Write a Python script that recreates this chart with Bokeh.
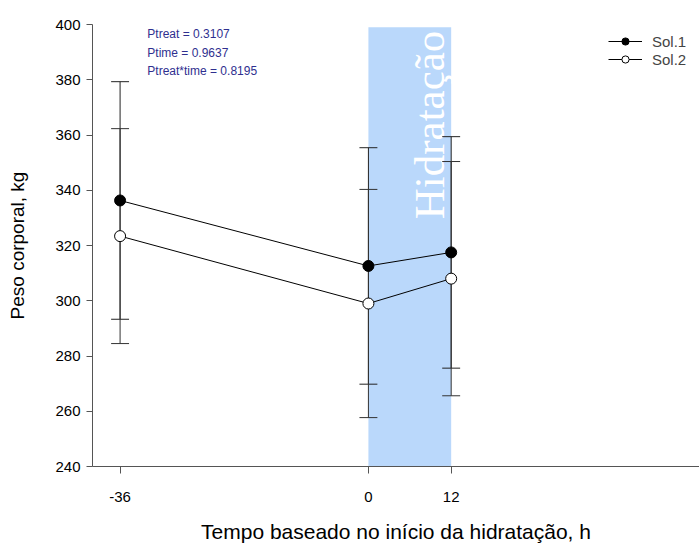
import math
from bokeh.plotting import figure
from bokeh.models import ColumnDataSource, Legend, LegendItem, Label, FixedTicker, Range1d
from bokeh.core.properties import value
from bokeh.embed import file_html
from bokeh.resources import INLINE

# ---- data ----
times = [-36, 0, 12]
sol1_mean = [336.3, 312.6, 317.5]
sol1_err = [43.0, 42.8, 41.9]
sol2_mean = [323.4, 299.0, 308.0]
sol2_err = [38.9, 41.3, 42.4]
x_ticks = [-36, 0, 12]
x_tick_labels = {-36: "-36", 0: "0", 12: "12"}
y_ticks = [240, 260, 280, 300, 320, 340, 360, 380, 400]
band_start, band_end = 0, 12
stats_lines = ["Ptreat = 0.3107", "Ptime = 0.9637", "Ptreat*time = 0.8195"]

FONT = "Liberation Sans"

p = figure(width=699, height=545, output_backend="svg", toolbar_location=None,
           x_range=Range1d(-40, 48), y_range=Range1d(240, 400),
           min_border_left=92, min_border_right=0, min_border_top=24, min_border_bottom=76)
p.outline_line_color = None
p.grid.visible = False
p.background_fill_color = "white"

# band
p.quad(left=[band_start], right=[band_end], bottom=[240], top=[399],
       fill_color="#bad8fb", line_color=None)

p.text(x=[8.8], y=[329.5], text=["Hidratação"], angle=math.pi / 2,
       text_font=value("Liberation Serif"), text_font_size="43px",
       text_color="white", text_align="left", text_baseline="alphabetic")

cap = 1.3
for means, errs, col in [(sol1_mean, sol1_err, "#222222"), (sol2_mean, sol2_err, "#333333")]:
    lo = [m - e for m, e in zip(means, errs)]
    hi = [m + e for m, e in zip(means, errs)]
    src = ColumnDataSource(dict(x=times, lo=lo, hi=hi,
                                xl=[t - cap for t in times], xr=[t + cap for t in times]))
    p.segment(x0="x", y0="lo", x1="x", y1="hi", source=src, line_color=col, line_width=1)
    p.segment(x0="xl", y0="lo", x1="xr", y1="lo", source=src, line_color=col, line_width=1)
    p.segment(x0="xl", y0="hi", x1="xr", y1="hi", source=src, line_color=col, line_width=1)

l1 = p.line(times, sol1_mean, line_color="black", line_width=1)
l2 = p.line(times, sol2_mean, line_color="black", line_width=1)
s1 = p.scatter(times, sol1_mean, size=11, marker="circle", fill_color="black", line_color="black")
s2 = p.scatter(times, sol2_mean, size=11, marker="circle", fill_color="white", line_color="black")

legend = Legend(items=[LegendItem(label="Sol.1", renderers=[l1, s1]),
                       LegendItem(label="Sol.2", renderers=[l2, s2])],
                location=(516, 398), glyph_width=34, glyph_height=18, spacing=0,
                padding=2, margin=0, label_standoff=10,
                border_line_color=None, background_fill_alpha=0,
                label_text_font=FONT, label_text_font_size="15px", label_height=18)
p.add_layout(legend)

for i, txt in enumerate(stats_lines):
    p.add_layout(Label(x=-32.05, y=396.5 - i * 6.7, text=txt, text_font=FONT,
                       text_font_size="12px", text_color="#2f2f8f",
                       text_baseline="middle", text_align="left"))

# axes
for ax in (p.xaxis[0], p.yaxis[0]):
    ax.axis_line_color = "#555555"
    ax.major_tick_line_color = "#555555"
    ax.minor_tick_line_color = None
    ax.major_tick_in = 0
    ax.major_label_text_font = FONT
    ax.major_label_text_font_size = "15px"
    ax.major_label_text_color = "black"
    ax.axis_label_text_font = FONT
    ax.axis_label_text_font_style = "normal"
    ax.axis_label_text_color = "black"

p.xaxis.axis_label_text_font_size = "21px"
p.yaxis.axis_label_text_font_size = "19px"
p.xaxis.ticker = FixedTicker(ticks=x_ticks)
p.xaxis.major_label_overrides = x_tick_labels
p.yaxis.ticker = FixedTicker(ticks=y_ticks)
p.xaxis.major_tick_out = 7
p.yaxis.major_tick_out = 6
p.xaxis.major_label_standoff = 18
p.yaxis.major_label_standoff = 6
p.xaxis.axis_label = "Tempo baseado no início da hidratação, h"
p.yaxis.axis_label = "Peso corporal, kg"
p.xaxis.axis_label_standoff = 15
p.yaxis.axis_label_standoff = 24

open("out.html", "w").write(file_html(p, INLINE))
